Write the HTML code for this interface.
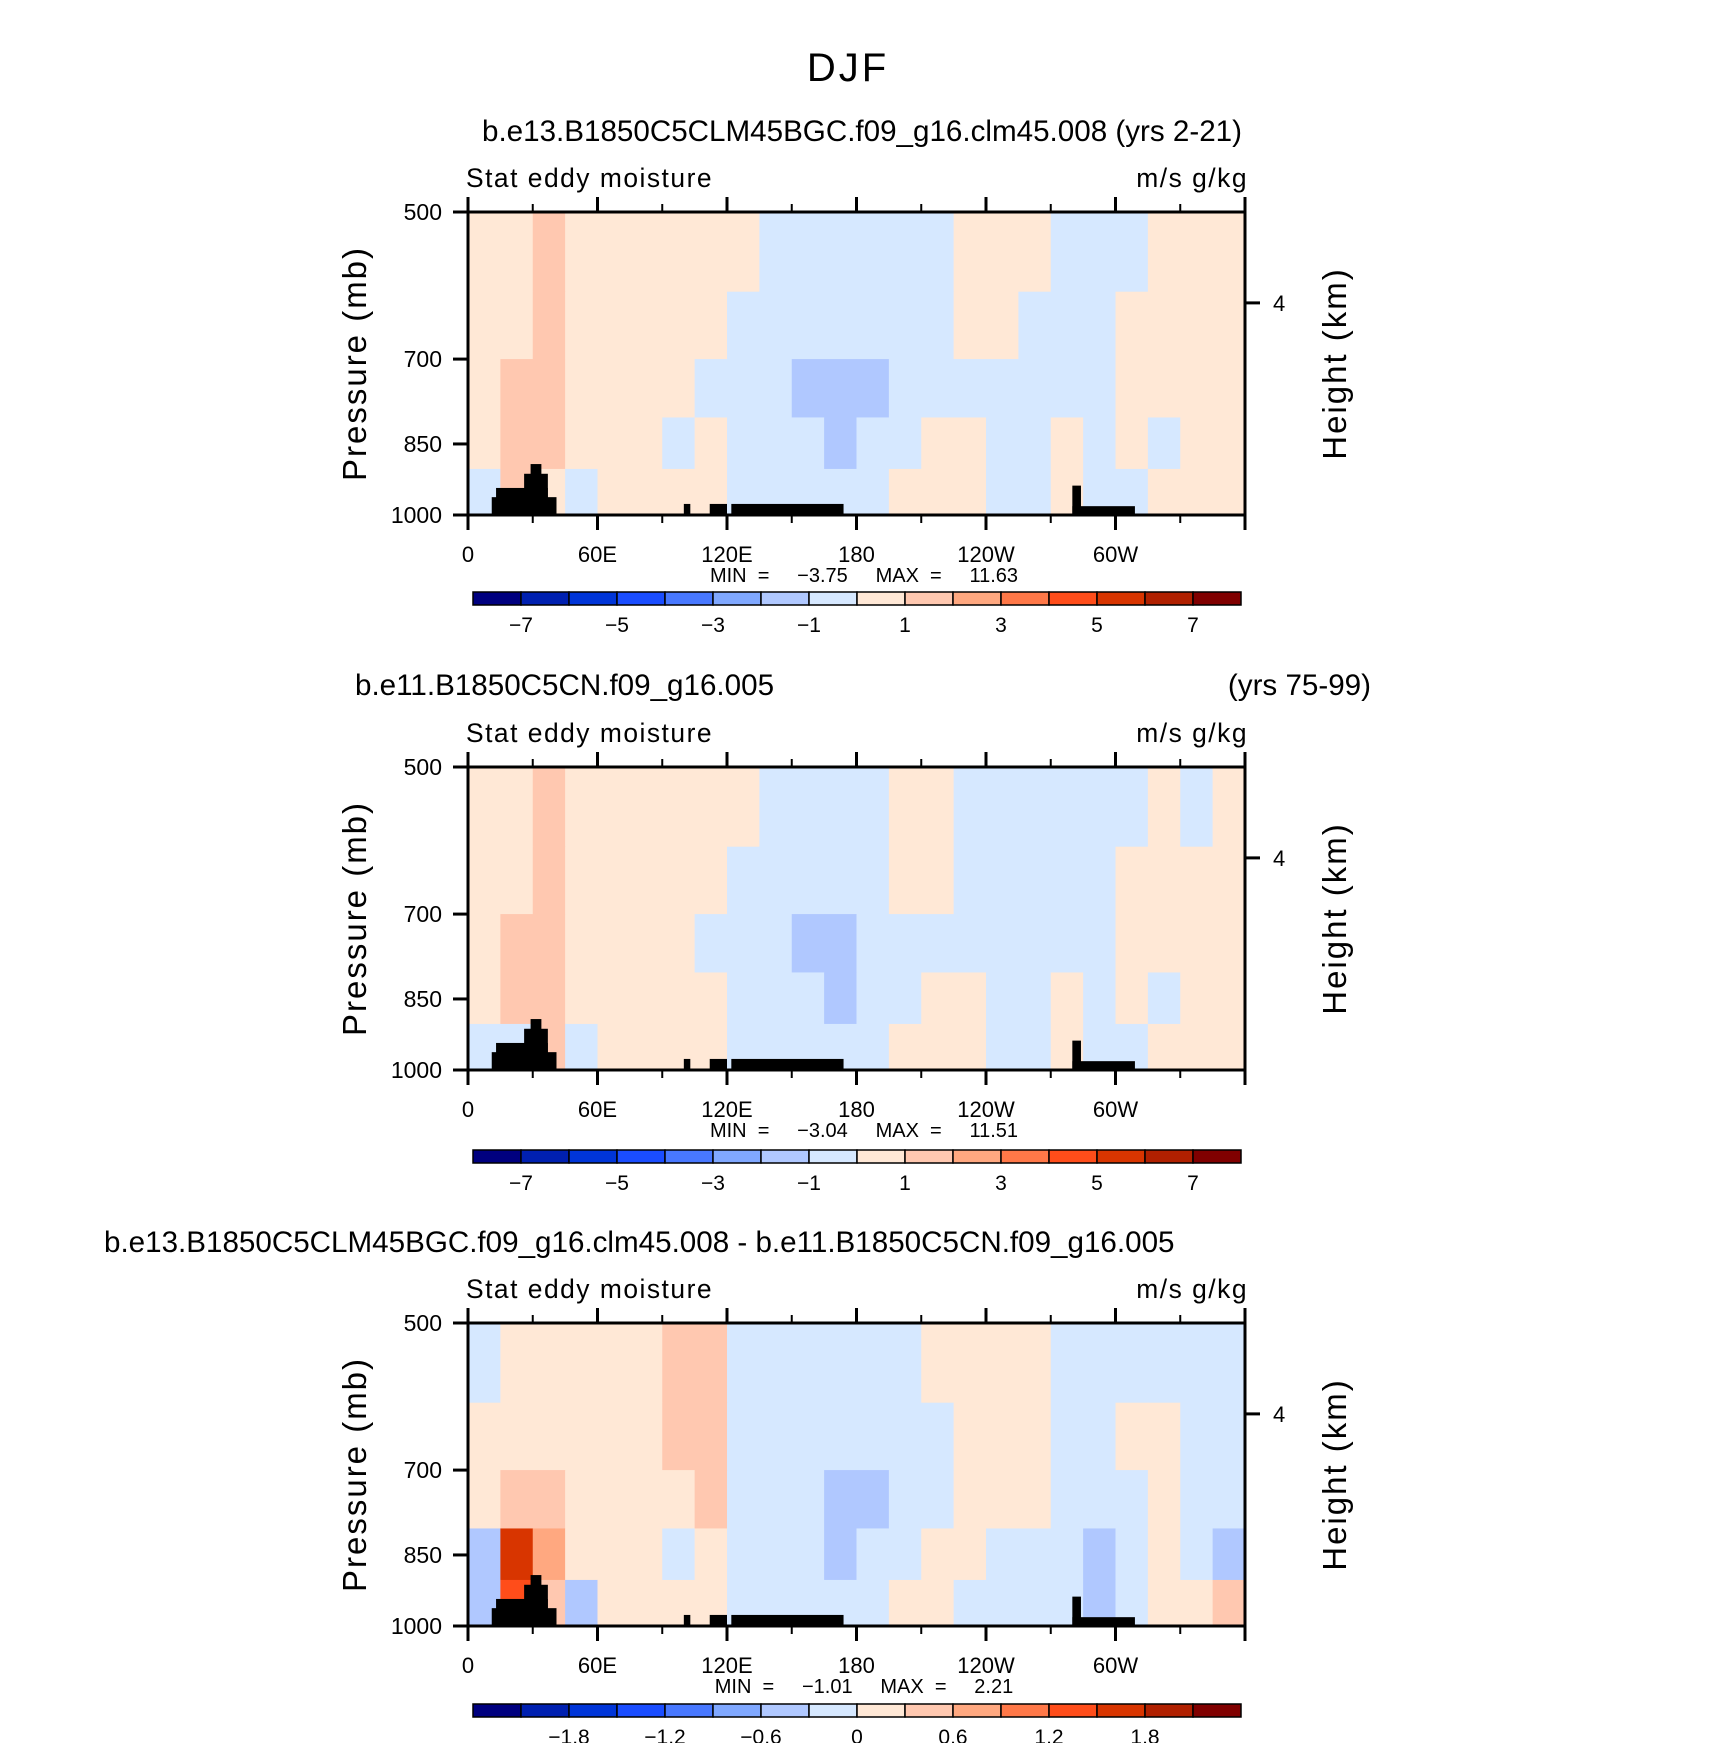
<!DOCTYPE html>
<html><head><meta charset="utf-8"><style>
body{margin:0;background:#fff}
svg text{font-family:"Liberation Sans",sans-serif;fill:#000}
.pre{white-space:pre}
</style></head><body>
<svg id="fig" width="1710" height="1743" viewBox="0 0 1710 1743" xmlns="http://www.w3.org/2000/svg">
<text x="848" y="81" font-size="40" text-anchor="middle" letter-spacing="3">DJF</text>
<text x="862" y="141" font-size="29.6" text-anchor="middle">b.e13.B1850C5CLM45BGC.f09_g16.clm45.008 (yrs 2-21)</text>
<text x="355" y="695" font-size="29.6">b.e11.B1850C5CN.f09_g16.005</text>
<text x="1371" y="695" font-size="29.6" text-anchor="end">(yrs 75-99)</text>
<text x="104" y="1252" font-size="29.6">b.e13.B1850C5CLM45BGC.f09_g16.clm45.008 - b.e11.B1850C5CN.f09_g16.005</text>
</svg>
<script>
// longitude columns: 15 degree bands; pressure bands (mb)
const lonEdges = [0,15,30,45,60,75,90,105,120,135,150,165,180,195,210,225,240,255,270,285,300,315,330,345,360];
const presEdges = [500,600,700,800,900,1000];
const p1Values = [
 [.5,.5,1.5,.5,.5,.5,.5,.5,.5,-.5,-.5,-.5,-.5,-.5,-.5,.5,.5,.5,-.5,-.5,-.5,.5,.5,.5],
 [.5,.5,1.5,.5,.5,.5,.5,.5,-.5,-.5,-.5,-.5,-.5,-.5,-.5,.5,.5,-.5,-.5,-.5,.5,.5,.5,.5],
 [.5,1.5,1.5,.5,.5,.5,.5,-.5,-.5,-.5,-1.5,-1.5,-1.5,-.5,-.5,-.5,-.5,-.5,-.5,-.5,.5,.5,.5,.5],
 [.5,1.5,1.5,.5,.5,.5,-.5,.5,-.5,-.5,-.5,-1.5,-.5,-.5,.5,.5,-.5,-.5,.5,-.5,.5,-.5,.5,.5],
 [-.5,1.5,.5,-.5,.5,.5,.5,.5,-.5,-.5,-.5,-.5,-.5,.5,.5,.5,-.5,-.5,.5,-.5,-.5,.5,.5,.5]];
const p2Values = [
 [.5,.5,1.5,.5,.5,.5,.5,.5,.5,-.5,-.5,-.5,-.5,.5,.5,-.5,-.5,-.5,-.5,-.5,-.5,.5,-.5,.5],
 [.5,.5,1.5,.5,.5,.5,.5,.5,-.5,-.5,-.5,-.5,-.5,.5,.5,-.5,-.5,-.5,-.5,-.5,.5,.5,.5,.5],
 [.5,1.5,1.5,.5,.5,.5,.5,-.5,-.5,-.5,-1.5,-1.5,-.5,-.5,-.5,-.5,-.5,-.5,-.5,-.5,.5,.5,.5,.5],
 [.5,1.5,1.5,.5,.5,.5,.5,.5,-.5,-.5,-.5,-1.5,-.5,-.5,.5,.5,-.5,-.5,.5,-.5,.5,-.5,.5,.5],
 [-.5,-.5,1.5,-.5,.5,.5,.5,.5,-.5,-.5,-.5,-.5,-.5,.5,.5,.5,-.5,-.5,.5,-.5,-.5,.5,.5,.5]];
const p3Values = [
 [-.15,.15,.15,.15,.15,.15,.45,.45,-.15,-.15,-.15,-.15,-.15,-.15,.15,.15,.15,.15,-.15,-.15,-.15,-.15,-.15,-.15],
 [.15,.15,.15,.15,.15,.15,.45,.45,-.15,-.15,-.15,-.15,-.15,-.15,-.15,.15,.15,.15,-.15,-.15,.15,.15,-.15,-.15],
 [.15,.45,.45,.15,.15,.15,.15,.45,-.15,-.15,-.15,-.45,-.45,-.15,-.15,.15,.15,.15,-.15,-.15,-.15,.15,-.15,-.15],
 [-.45,1.5,.75,.15,.15,.15,-.15,.15,-.15,-.15,-.15,-.45,-.15,-.15,.15,.15,-.15,-.15,-.15,-.45,-.15,.15,-.15,-.45],
 [-.45,1.2,.45,-.45,.15,.15,.15,.15,-.15,-.15,-.15,-.15,-.15,.15,.15,-.15,-.15,-.15,-.15,-.45,-.15,.15,.15,.45]];
// topography blocks: [lonStart, lonEnd, topPressure]
const topoLo = [11,13,26,29,100,112,122,280,280];
const topoHi = [41,37,37,34,103,120,174,309,284];
const topoP  = [960,940,910,890,975,975,975,980,935];
const lonTickVals = [0,60,120,180,240,300];
const lonTickLabels = ["0","60E","120E","180","120W","60W"];
const presTicks = [500,700,850,1000];
const cb12Labels = ["\u22127","\u22125","\u22123","\u22121","1","3","5","7"];
const cb3Labels = ["\u22121.8","\u22121.2","\u22120.6","0","0.6","1.2","1.8"];
const colors = ["#00007f","#0020b0","#0035d8","#1a4dff","#4878ff","#80a8ff","#b0c8ff","#d6e8ff","#ffe8d6","#ffc8b0","#ffa880","#ff7848","#ff4d1a","#d83500","#b02000","#800000"];

const NS="http://www.w3.org/2000/svg", svg=document.getElementById('fig');
function el(tag,attrs,parent){const e=document.createElementNS(NS,tag);for(const k in attrs)e.setAttribute(k,attrs[k]);(parent||svg).appendChild(e);return e;}
const X0=468,X1=1245;
const xs=lon=>X0+(lon/360)*(X1-X0);

function panel(idx,top,bot,vals,bmin,bstep,minTxt,maxTxt,cbY,cbLabels,cbStart){
  const ys=p=>top+(Math.log(p)-Math.log(500))/(Math.log(1000)-Math.log(500))*(bot-top);
  const g=el('g',{});
  
  
  for(let r=0;r<vals.length;r++)for(let c=0;c<vals[r].length;c++){
    let b=Math.floor((vals[r][c]-bmin)/bstep);b=Math.max(0,Math.min(15,b));
    const x=xs(lonEdges[c]),y=ys(presEdges[r]);
    const cell=el('rect',{x:x,y:y,width:xs(lonEdges[c+1])-x+0.5,height:ys(presEdges[r+1])-y+0.5,fill:colors[b]},g);
    
    
  }
  for(let i=0;i<topoLo.length;i++){
    const y=ys(topoP[i]);
    const t=el('rect',{x:xs(topoLo[i]),y:y,width:xs(topoHi[i])-xs(topoLo[i]),height:bot-y,fill:'#000'},g);
    
    
  }
  const f=el('rect',{x:X0,y:top,width:X1-X0,height:bot-top,fill:'none',stroke:'#000','stroke-width':3},g);
  
  
  for(let lon=0;lon<=360;lon+=30){
    const maj=lon%60===0, L=maj?15:8, x=xs(lon);
    el('line',{x1:x,x2:x,y1:top,y2:top-L,stroke:'#000','stroke-width':maj?3:2},g);
    el('line',{x1:x,x2:x,y1:bot,y2:bot+L,stroke:'#000','stroke-width':maj?3:2},g);
  }
  lonTickVals.forEach((v,i)=>{const t=el('text',{x:xs(v),y:bot+47,'font-size':22,'text-anchor':'middle'},g);t.textContent=lonTickLabels[i];
    
    });
  presTicks.forEach(p=>{const y=ys(p);el('line',{x1:X0,x2:X0-15,y1:y,y2:y,stroke:'#000','stroke-width':3},g);
    const t=el('text',{x:X0-26,y:y+8,'font-size':23,'text-anchor':'end'},g);t.textContent=p;
    
    });
  const hy=top+0.30*(bot-top);
  el('line',{x1:X1,x2:X1+15,y1:hy,y2:hy,stroke:'#000','stroke-width':3},g);
  const h4=el('text',{x:X1+28,y:hy+8,'font-size':22},g);h4.textContent='4';
  
  
  const yl=el('text',{x:0,y:0,'font-size':33,'text-anchor':'middle','letter-spacing':2,transform:`translate(366,${(top+bot)/2}) rotate(-90)`},g);yl.textContent='Pressure (mb)';
  
  
  const hl=el('text',{x:0,y:0,'font-size':33,'text-anchor':'middle','letter-spacing':2,transform:`translate(1346,${(top+bot)/2}) rotate(-90)`},g);hl.textContent='Height (km)';
  
  
  const s=el('text',{x:X0-2,y:top-25,'font-size':26.4,'letter-spacing':1.5},g);s.textContent='Stat eddy moisture';
  
  
  const u=el('text',{x:X1+3,y:top-25,'font-size':26.4,'text-anchor':'end','letter-spacing':1.5},g);u.textContent='m/s g/kg';
  
  
  const mm=el('text',{x:864,y:bot+67,'font-size':20,'text-anchor':'middle','class':'pre'},g);mm.textContent=`MIN  =     ${minTxt}     MAX  =     ${maxTxt}`;
  
  
  const cx0=473,cx1=1241,w=(cx1-cx0)/16;
  for(let i=0;i<16;i++){const b=el('rect',{x:cx0+i*w,y:cbY,width:w,height:13,fill:colors[i],stroke:'#000','stroke-width':1.5},g);
    
    }
  cbLabels.forEach((l,i)=>{const t=el('text',{x:cx0+(cbStart+2*i)*w,y:cbY+40,'font-size':21,'text-anchor':'middle'},g);t.textContent=l;
    
    });
}
panel(1,212,515,p1Values,-8,1,"\u22123.75","11.63",592,cb12Labels,1);
panel(2,767,1070,p2Values,-8,1,"\u22123.04","11.51",1150,cb12Labels,1);
panel(3,1323,1626,p3Values,-2.4,0.3,"\u22121.01","2.21",1704,cb3Labels,2);
</script>
</body></html>
